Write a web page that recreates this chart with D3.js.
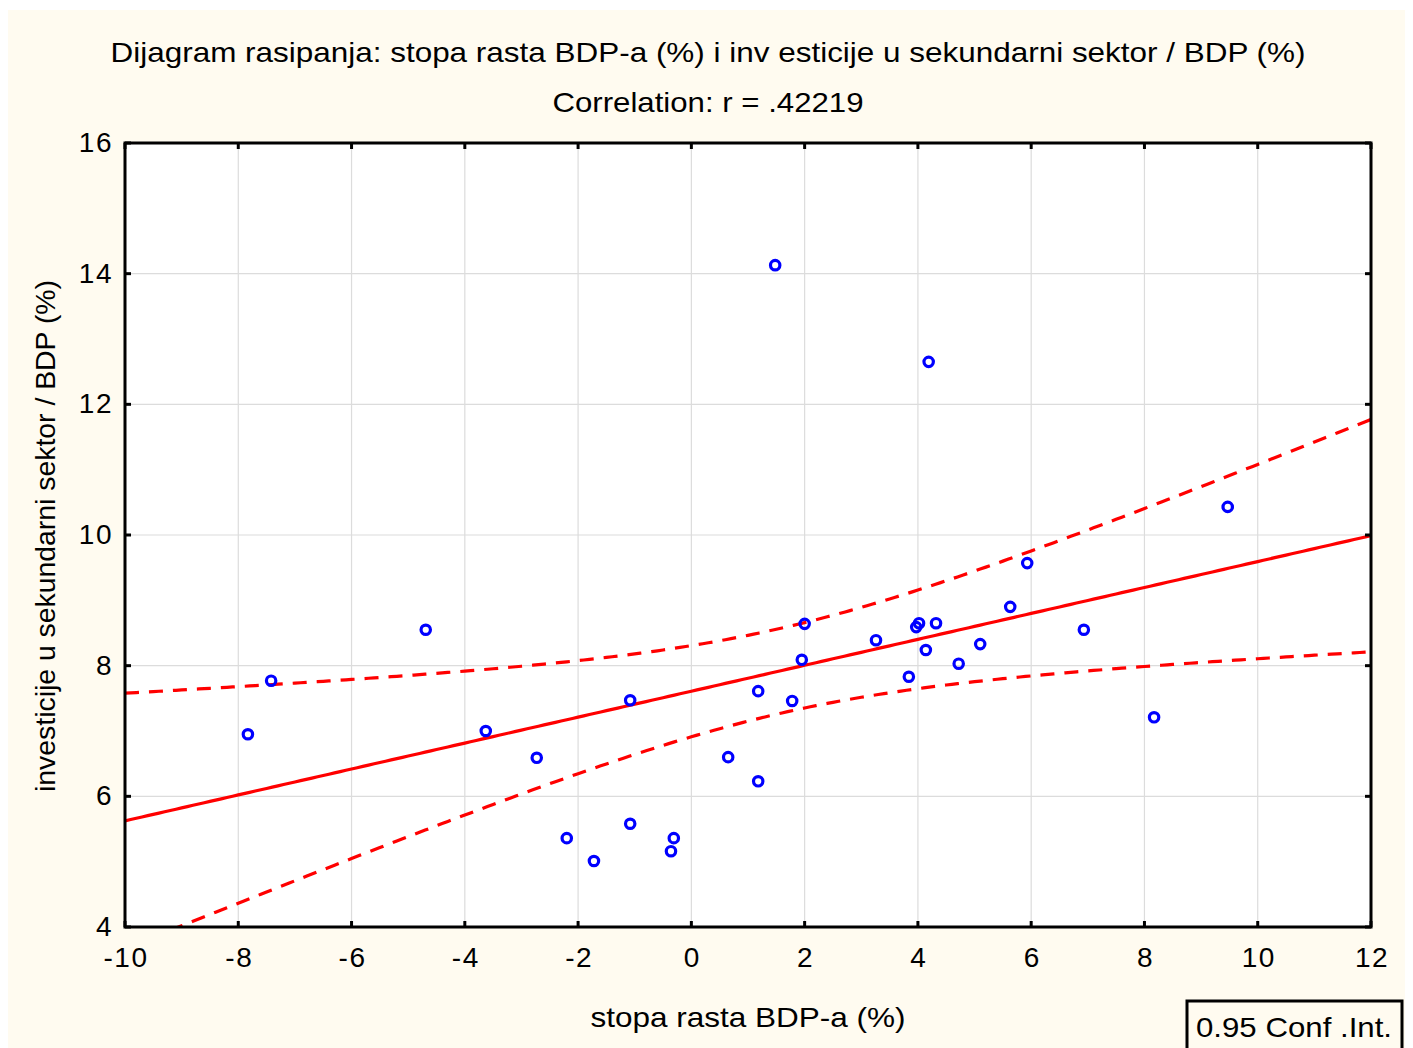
<!DOCTYPE html>
<html><head><meta charset="utf-8">
<script src="https://cdn.jsdelivr.net/npm/d3@7"></script>
<style>body{margin:0;background:#fff;} svg{display:block;font-family:"Liberation Sans",Arial,sans-serif;}</style>
</head><body><svg id="c" width="1413" height="1048"></svg>
<script>
const gdp = [-7.83,-7.42,-4.69,-3.63,-2.73,-2.20,-1.72,-1.08,-1.08,-0.36,-0.31,0.65,1.18,1.18,1.48,1.78,1.95,2.00,3.26,3.84,3.97,4.02,4.14,4.19,4.32,4.72,5.10,5.63,5.93,6.93,8.17,9.47];
const inv = [6.95,7.77,8.55,7.00,6.59,5.36,5.01,7.47,5.58,5.16,5.36,6.60,7.61,6.23,14.13,7.46,8.09,8.64,8.39,7.83,8.59,8.65,8.24,12.65,8.65,8.03,8.33,8.90,9.57,8.55,7.21,10.43];
const xTicks = [-10,-8,-6,-4,-2,0,2,4,6,8,10,12];
const yTicks = [4,6,8,10,12,14,16];
const titleText = "Dijagram rasipanja: stopa rasta BDP-a (%) i inv esticije u sekundarni sektor / BDP (%)";
const subtitleText = "Correlation: r = .42219";
const xLabel = "stopa rasta BDP-a (%)";
const yLabel = "investicije u sekundarni sektor / BDP (%)";
const legendText = "0.95 Conf .Int.";

const svg = d3.select("#c");
svg.append("rect").attr("x",8).attr("y",10).attr("width",1397).attr("height",1038).attr("fill","#fffbf0");

const L=125,R=1371,T=143,B=927;
const x = d3.scaleLinear().domain([-10,12]).range([L,R]);
const y = d3.scaleLinear().domain([4,16]).range([B,T]);

svg.append("rect").attr("x",L).attr("y",T).attr("width",R-L).attr("height",B-T).attr("fill","#fff");

// gridlines
const g = svg.append("g");
g.selectAll(".gx").data(xTicks.slice(1,-1)).enter().append("line")
 .attr("x1",d=>x(d)).attr("x2",d=>x(d)).attr("y1",T).attr("y2",B).attr("stroke","#dcdcdc").attr("stroke-width",1.2);
g.selectAll(".gy").data(yTicks.slice(1,-1)).enter().append("line")
 .attr("y1",d=>y(d)).attr("y2",d=>y(d)).attr("x1",L).attr("x2",R).attr("stroke","#dcdcdc").attr("stroke-width",1.2);

// regression & CI
const n = gdp.length;
const mx = d3.mean(gdp), my = d3.mean(inv);
let sxx=0,sxy=0; for(let i=0;i<n;i++){sxx+=(gdp[i]-mx)**2; sxy+=(gdp[i]-mx)*(inv[i]-my);}
const b = sxy/sxx, a = my-b*mx;
let sse=0; for(let i=0;i<n;i++){sse+=(inv[i]-a-b*gdp[i])**2;}
const s = Math.sqrt(sse/(n-2));
const tcrit = 2.045;
const xs = d3.range(-10,12.001,0.1);
const band = xs.map(v=>{const f=a+b*v; const h=tcrit*s*Math.sqrt(1/n+(v-mx)**2/sxx); return {v,f,lo:f-h,hi:f+h};});

svg.append("clipPath").attr("id","pc").append("rect").attr("x",L).attr("y",T).attr("width",R-L).attr("height",B-T);
const pg = svg.append("g").attr("clip-path","url(#pc)");
const line = (acc)=>d3.line().x(d=>x(d.v)).y(d=>y(acc(d)));
pg.append("path").datum(band).attr("d",line(d=>d.hi)).attr("fill","none").attr("stroke","#ff0000").attr("stroke-width",3.2).attr("stroke-dasharray","14,10");
pg.append("path").datum(band).attr("d",line(d=>d.lo)).attr("fill","none").attr("stroke","#ff0000").attr("stroke-width",3.2).attr("stroke-dasharray","14,10");
pg.append("path").datum(band).attr("d",line(d=>d.f)).attr("fill","none").attr("stroke","#ff0000").attr("stroke-width",3.2);

// points
svg.append("g").selectAll("circle").data(gdp.map((v,i)=>[v,inv[i]])).enter().append("circle")
 .attr("cx",d=>x(d[0])).attr("cy",d=>y(d[1])).attr("r",4.7).attr("fill","none").attr("stroke","#0000ff").attr("stroke-width",3.2);

// frame & ticks
svg.append("rect").attr("x",L).attr("y",T).attr("width",R-L).attr("height",B-T).attr("fill","none").attr("stroke","#000").attr("stroke-width",3);
const tk = svg.append("g").attr("stroke","#000").attr("stroke-width",3);
xTicks.forEach(d=>{
  tk.append("line").attr("x1",x(d)).attr("x2",x(d)).attr("y1",T).attr("y2",T+6);
  tk.append("line").attr("x1",x(d)).attr("x2",x(d)).attr("y1",B).attr("y2",B-6);
});
yTicks.forEach(d=>{
  tk.append("line").attr("y1",y(d)).attr("y2",y(d)).attr("x1",L).attr("x2",L+6);
  tk.append("line").attr("y1",y(d)).attr("y2",y(d)).attr("x1",R).attr("x2",R-6);
});

// tick labels
svg.append("g").selectAll("text").data(xTicks).enter().append("text")
 .attr("x",d=>x(d)+1).attr("y",967).attr("text-anchor","middle").attr("font-size",28).attr("letter-spacing",1.5).text(d=>d);
svg.append("g").selectAll("text").data(yTicks).enter().append("text")
 .attr("x",113).attr("y",d=>y(d)+9).attr("text-anchor","end").attr("font-size",28).attr("letter-spacing",1.5).text(d=>d);

// titles
svg.append("text").attr("x",708).attr("y",62).attr("text-anchor","middle").attr("font-size",28).attr("textLength",1195).attr("lengthAdjust","spacingAndGlyphs").text(titleText);
svg.append("text").attr("x",708).attr("y",112).attr("text-anchor","middle").attr("font-size",28).attr("textLength",311).attr("lengthAdjust","spacingAndGlyphs").text(subtitleText);
svg.append("text").attr("x",748).attr("y",1027).attr("text-anchor","middle").attr("font-size",28).attr("textLength",315).attr("lengthAdjust","spacingAndGlyphs").text(xLabel);
svg.append("text").attr("transform","translate(55,536) rotate(-90)").attr("text-anchor","middle").attr("font-size",28).attr("textLength",512).attr("lengthAdjust","spacingAndGlyphs").text(yLabel);

// legend box
svg.append("rect").attr("x",1187).attr("y",1001).attr("width",215).attr("height",52).attr("fill","#fffbf0").attr("stroke","#000").attr("stroke-width",3);
svg.append("text").attr("x",1294).attr("y",1037).attr("text-anchor","middle").attr("font-size",28).attr("textLength",196).attr("lengthAdjust","spacingAndGlyphs").text(legendText);
</script></body></html>
